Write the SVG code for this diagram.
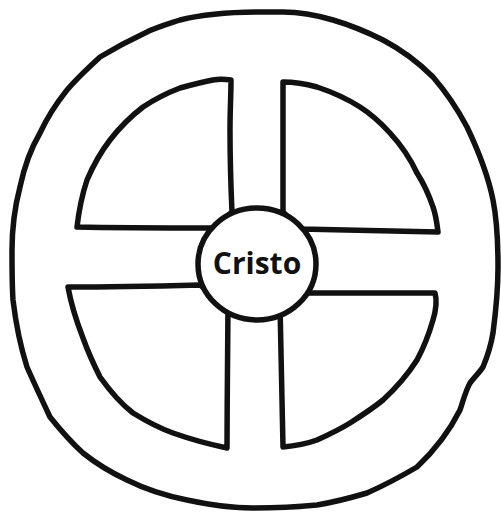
<svg xmlns="http://www.w3.org/2000/svg" width="501" height="512" viewBox="0 0 501 512">
<style>
.ln{fill:#fff;stroke:#111;stroke-width:5.5;stroke-linejoin:round;stroke-linecap:round}
.lbl{font-family:"Open Sans","Liberation Sans",sans-serif;font-weight:bold;font-size:30px;fill:#111;text-anchor:middle}
</style>
<rect width="501" height="512" fill="#fff"/>
<g id="outer">
<path class="ln" d="M260,12 C230,12 200,15 180,20 C165,25 155,28 147,32 C130,40 115,48 100,57 C88,68 77,78 67,90 C55,105 47,118 40,133 C30,150 24,168 20,187 C14,210 12,230 12,250 C12,270 12,285 13,300 C16,325 20,345 27,367 C35,385 42,400 50,417 C62,432 72,443 83,453 C98,465 112,473 127,480 C147,490 167,496 187,500 C210,505 232,508 253,508 C275,508 297,507 317,505 C335,502 350,498 367,493 C385,485 400,477 417,467 C435,450 450,430 460,410 C464,398 466,390 470,383 C476,375 480,372 483,367 C488,355 491,345 493,333 C496,310 498,290 498,267 C498,240 497,220 493,200 C488,175 478,150 467,127 C458,110 446,92 433,77 C418,62 402,50 383,40 C367,32 350,25 333,20 C316,15 300,12 283,12 Z"/>
</g>
<g id="quadrant-tl">
<path class="ln" d="M231,80 C224,79 218,79 213,80 C202,82 191,85 180,88 C167,93 155,99 143,107 C130,117 120,127 110,140 C100,153 93,166 87,180 C82,195 79,210 77,227 C120,228 165,228 215,228 L232,212 C231,190 230,160 230,130 C230,110 231,95 231,80 Z"/>
</g>
<g id="quadrant-tr">
<path class="ln" d="M283,82 C295,82 306,84 317,87 C332,92 346,98 360,107 C371,114 381,123 390,133 C401,145 410,158 417,173 C424,184 429,195 433,207 C436,215 437,224 438,232 C400,231 350,230 300,229 L283,212 C283,170 283,125 283,82 Z"/>
</g>
<g id="quadrant-bl">
<path class="ln" d="M200,285 C160,286 110,287 68,287 C71,304 76,320 83,338 C88,352 94,365 100,377 C110,391 120,403 133,413 C146,421 159,428 173,433 C190,439 208,444 227,448 C227,400 228,350 228,305 Z"/>
</g>
<g id="quadrant-br">
<path class="ln" d="M300,293 C345,293 390,293 435,293 C437,300 436,310 433,320 C429,334 424,347 417,360 C408,374 396,388 383,400 C372,409 361,416 350,423 C339,430 328,435 317,440 C306,444 295,446 283,447 C282,405 281,360 280,305 Z"/>
</g>
<g id="cristo">
<ellipse class="ln" cx="257" cy="264" rx="59" ry="56"/>
<text class="lbl" x="257" y="274">Cristo</text>
</g>
</svg>
